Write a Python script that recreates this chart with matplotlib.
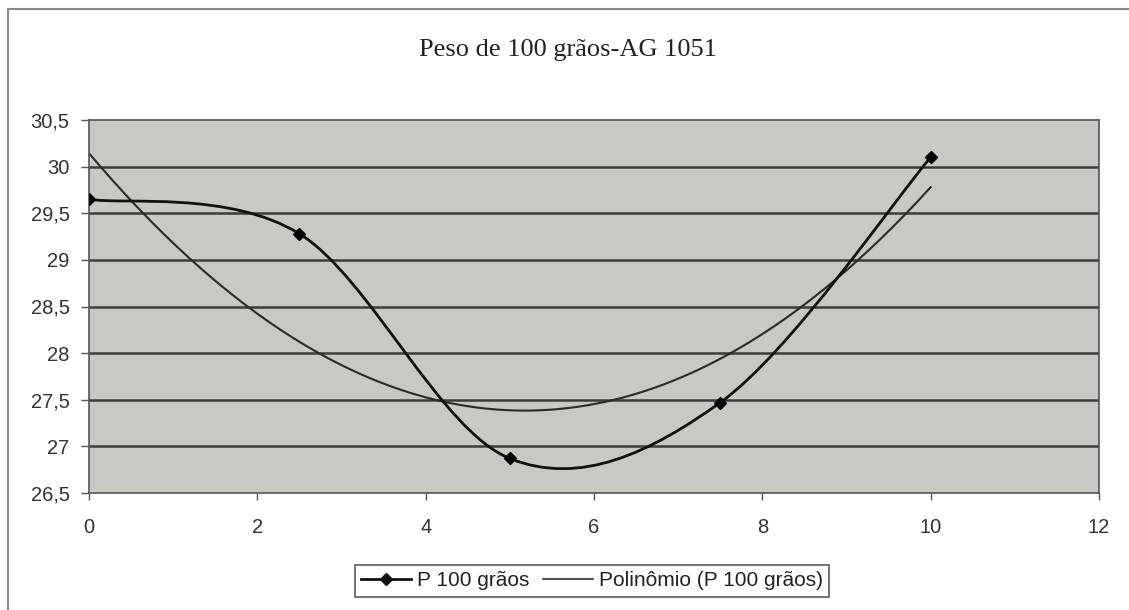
import numpy as np
import matplotlib
matplotlib.use('Agg')
import matplotlib.pyplot as plt
from matplotlib.path import Path
from matplotlib.patches import PathPatch
from matplotlib.lines import Line2D

# data
dose = [0, 2.5, 5, 7.5, 10]
peso = [29.65, 29.28, 26.87, 27.47, 30.1]
title = 'Peso de 100 grãos-AG 1051'
series_name = 'P 100 grãos'
trend_name = 'Polinômio (P 100 grãos)'
xticks = [0, 2, 4, 6, 8, 10, 12]
yticks = [26.5, 27, 27.5, 28, 28.5, 29, 29.5, 30, 30.5]

plt.rcParams['font.family'] = ['Liberation Sans', 'DejaVu Sans']


def smooth_path(xs, ys):
    # excel-like smoothed line: catmull-rom turned into cubic bezier segments
    pts = np.column_stack([xs, ys]).astype(float)
    n = len(pts)
    verts, codes = [pts[0]], [Path.MOVETO]
    for i in range(n - 1):
        p0 = pts[max(i - 1, 0)]
        p1, p2 = pts[i], pts[i + 1]
        p3 = pts[min(i + 2, n - 1)]
        verts += [p1 + (p2 - p0) / 6, p2 - (p3 - p1) / 6, p2]
        codes += [Path.CURVE4] * 3
    return Path(verts, codes)


fig = plt.figure(figsize=(11.29, 6.10), dpi=100)
ax = fig.add_axes([89 / 1129, 1 - 493 / 610, 1010 / 1129, 373 / 610])
ax.set_facecolor('#c8c8c4')

# outer chart border (only left and top survive in the scan)
fig.add_artist(Line2D([8 / 1129, 8 / 1129], [0, 1 - 9 / 610], color='#8a8a8a', lw=1.5))
fig.add_artist(Line2D([8 / 1129, 1], [1 - 9 / 610, 1 - 9 / 610], color='#8a8a8a', lw=1.5))

for yv in yticks[1:-1]:
    ax.axhline(yv, color='#3c3c3c', lw=1.8, zorder=1)

# polynomial trend (2nd order fit of the series)
coef = np.polyfit(dose, peso, 2)
xt = np.linspace(0, 10, 200)
ax.plot(xt, np.polyval(coef, xt), color='#2a2a2a', lw=1.5, zorder=2)

ax.add_patch(PathPatch(smooth_path(dose, peso), facecolor='none',
                       edgecolor='#111111', lw=2.0, zorder=3))
ax.plot(dose, peso, 'D', color='black', ms=6.5, zorder=4)

ax.set_xlim(0, 12)
ax.set_ylim(26.5, 30.5)
ax.set_xticks(xticks)
ax.set_yticks(yticks)
ax.set_xticklabels([str(v) for v in xticks])
ax.set_yticklabels([('%g' % v).replace('.', ',') for v in yticks])
ax.tick_params(axis='y', length=6, width=1, color='#555555', pad=8,
               labelsize=14.5, labelcolor='#333333')
ax.tick_params(axis='x', length=5, width=1, color='#555555', pad=13,
               labelsize=14.5, labelcolor='#333333')
for sp in ax.spines.values():
    sp.set_color('#555555')
    sp.set_linewidth(1.2)

fig.text(568 / 1129, 1 - 50 / 610, title, ha='center', va='center',
         family='Liberation Serif', fontsize=19, color='#222222')

handles = [Line2D([], [], color='#111111', lw=2, marker='D', ms=6),
           Line2D([], [], color='#2a2a2a', lw=1.2)]
leg = fig.legend(handles, [series_name, trend_name], loc='center',
                 bbox_to_anchor=(592 / 1129, 1 - 581 / 610), ncol=2,
                 fontsize=15, frameon=True, fancybox=False, handlelength=2.4,
                 handletextpad=0.25, columnspacing=0.7, borderpad=0.3,
                 borderaxespad=0)
leg.get_frame().set_edgecolor('#333333')
leg.get_frame().set_linewidth(1.2)
for t in leg.get_texts():
    t.set_color('#222222')

fig.savefig('out.png', dpi=100, facecolor='white')
